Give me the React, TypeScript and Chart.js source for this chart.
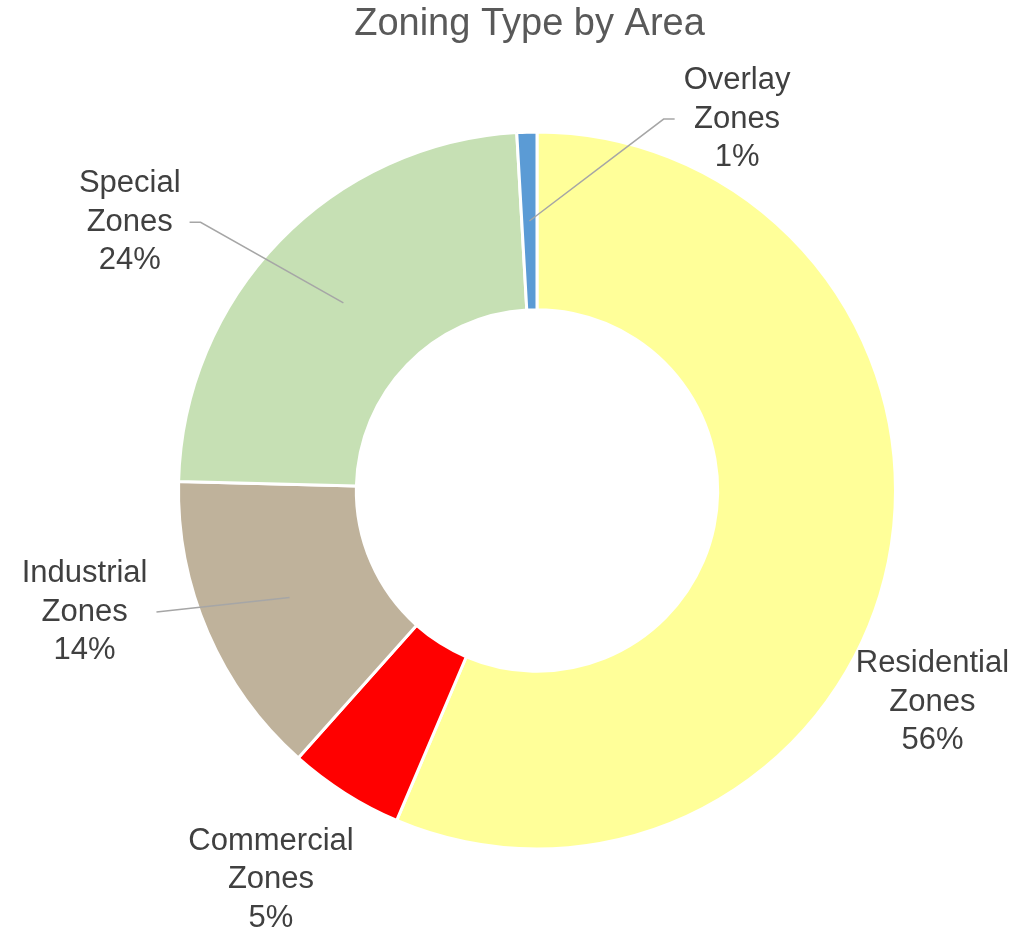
import React, { useEffect, useRef } from "react";
import { Chart, registerables } from "chart.js";

Chart.register(...registerables);

const chartTitle = "Zoning Type by Area";
const categories = ["Residential Zones", "Commercial Zones", "Industrial Zones", "Special Zones", "Overlay Zones"];
const categoryLines = [
  ["Residential", "Zones"],
  ["Commercial", "Zones"],
  ["Industrial", "Zones"],
  ["Special", "Zones"],
  ["Overlay", "Zones"],
];
const values = [56.4, 5.2, 13.8, 23.7, 0.9];
const percentLabels = ["56%", "5%", "14%", "24%", "1%"];
const colors = ["#FFFF99", "#FF0000", "#BFB29B", "#C6E0B4", "#5B9BD5"];

// label placement (style only): offset of label centre from pie centre, in outer-radius units
const labelDx = [1.103, -0.742, -1.262, -1.136, 0.558];
const labelDy = [0.591, 1.086, 0.339, -0.748, -1.036];
const labelLeader = [false, false, true, true, true];
const leaderTail = [0, 0, 0, 11, 11];

const LABEL_FONT = "31px 'Liberation Sans', Arial, Helvetica, sans-serif";
const TITLE_FONT = "38px 'Liberation Sans', Arial, Helvetica, sans-serif";
const LINE_H = 38.5;

const labelPlugin = {
  id: "outerLabels",
  afterDatasetsDraw(chart: any) {
    const ctx = chart.ctx;
    const meta = chart.getDatasetMeta(0);
    ctx.save();
    // title
    ctx.font = TITLE_FONT;
    ctx.fillStyle = "#595959";
    ctx.textAlign = "center";
    ctx.textBaseline = "middle";
    ctx.fillText(chartTitle, chart.width / 2 + 15, 25);

    meta.data.forEach((arc: any, i: number) => {
      const { x, y, outerRadius } = arc.getProps(["x", "y", "outerRadius"], true);
      const cx = x + labelDx[i] * outerRadius;
      const cy = y + labelDy[i] * outerRadius;
      const lines = [...categoryLines[i], percentLabels[i]];
      ctx.font = LABEL_FONT;
      const maxW = Math.max(...lines.map((l) => ctx.measureText(l).width));
      if (labelLeader[i]) {
        const c = arc.tooltipPosition(true);
        const side = c.x > cx ? 1 : -1;
        const edgeX = cx + side * (maxW / 2 + 9);
        const bendX = edgeX + side * leaderTail[i];
        ctx.strokeStyle = "#A6A6A6";
        ctx.lineWidth = 1.5;
        ctx.beginPath();
        ctx.moveTo(c.x, c.y);
        ctx.lineTo(bendX, cy);
        ctx.lineTo(edgeX, cy);
        ctx.stroke();
      }
      ctx.fillStyle = "#404040";
      ctx.textAlign = "center";
      ctx.textBaseline = "middle";
      lines.forEach((l, k) => {
        ctx.fillText(l, cx, cy + (k - 1) * LINE_H);
      });
    });
    ctx.restore();
  },
};

export default function App() {
  const ref = useRef<HTMLCanvasElement>(null);
  useEffect(() => {
    if (!ref.current) return;
    const chart = new Chart(ref.current, {
      type: "doughnut",
      data: {
        labels: categories,
        datasets: [
          {
            data: values,
            backgroundColor: colors,
            borderColor: "#FFFFFF",
            borderWidth: 3,
          },
        ],
      },
      options: {
        responsive: false,
        animation: false,
        cutout: "50.4%",
        layout: { padding: { left: 177, right: 132, top: 130, bottom: 78 } },
        plugins: {
          legend: { display: false },
          title: { display: false },
          tooltip: { enabled: false },
        },
      },
      plugins: [labelPlugin],
    });
    return () => chart.destroy();
  }, []);
  return (
    <div style={{ position: "absolute", left: 0, top: 0, width: 1029, height: 929, background: "#fff" }}>
      <canvas ref={ref} width={1029} height={929} style={{ display: "block" }} />
    </div>
  );
}
